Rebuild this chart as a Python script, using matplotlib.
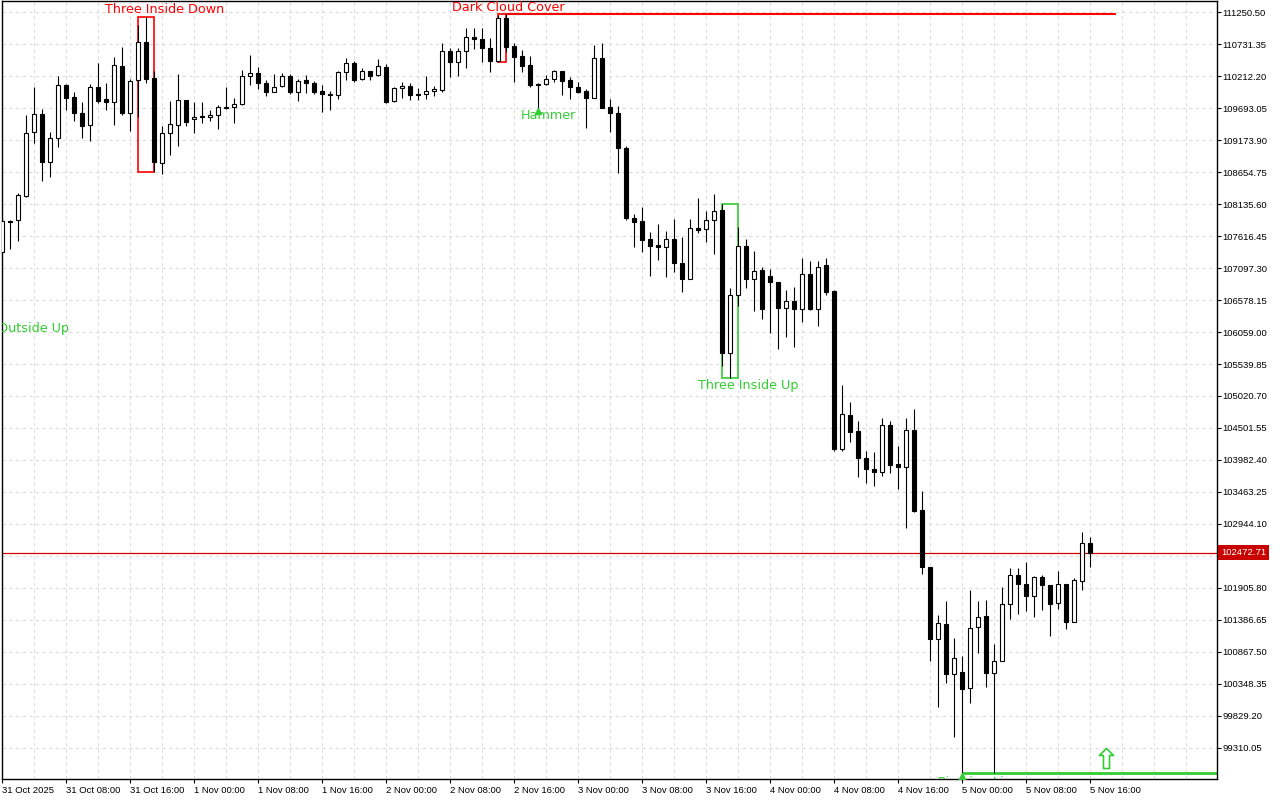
import matplotlib
matplotlib.use("Agg")
import matplotlib.pyplot as plt
import matplotlib.transforms as mtransforms
from matplotlib.patches import Rectangle
from matplotlib.path import Path
from matplotlib.ticker import MultipleLocator

# hourly bars, 31 Oct 2025 00:00 .. 5 Nov 2025 16:00
opens = [107358, 107862, 107878, 108268, 109307, 109599, 108820, 109209, 110070, 109875,
         109615, 109420, 110037, 109843, 109794, 110378, 109615, 110151, 110768, 110184,
         108803, 109291, 109420, 109826, 109518, 109567, 109550, 109583, 109696, 109713,
         109761, 110216, 110265, 110102, 109956, 110054, 110216, 109956, 110151, 110102,
         109972, 109924, 109908, 110281, 110427, 110167, 110297, 110232, 110362, 109810,
         110021, 110054, 109924, 109924, 109972, 109989, 110622, 110443, 110622, 110849,
         110817, 110671, 110460, 111158, 110703, 110541, 110395, 110086, 110086, 110167,
         110297, 110151, 110037, 109972, 109859, 110508, 109713, 109615, 109047, 107910,
         107862, 107569, 107472, 107440, 107569, 107180, 106920, 107748, 107732, 107878,
         108040, 105718, 106660, 107456, 106920, 107066, 106969, 106871, 106449, 106563,
         106433, 107001, 106433, 107147, 106725, 104160, 104712, 104452, 104014, 103835,
         103786, 104549, 103916, 103867, 104468, 103169, 102244, 101075, 101318, 100506,
         100539, 100279, 101269, 101448, 100523, 100717, 101643, 102114, 101968, 101773,
         102081, 101951, 101659, 101968, 101351, 102016, 102633]
highs = [107910, 107878, 108316, 109583, 110037, 109680, 109307, 110216, 110080, 109956,
         109794, 110086, 110427, 110102, 110525, 110687, 110167, 111044, 111174, 110297,
         109404, 109810, 110249, 109830, 109794, 109794, 109664, 109745, 110037, 109859,
         110313, 110557, 110362, 110151, 110249, 110265, 110249, 110167, 110232, 110135,
         110070, 109972, 110297, 110508, 110460, 110346, 110300, 110492, 110411, 110037,
         110119, 110102, 110021, 110216, 110054, 110752, 110671, 110671, 110995, 110995,
         110995, 110833, 111206, 111223, 110752, 110638, 110541, 110102, 110232, 110313,
         110300, 110200, 110119, 110005, 110719, 110752, 109843, 109729, 109079, 107975,
         108089, 107683, 107813, 107699, 107894, 107602, 107894, 108235, 108024, 108300,
         108138, 106774, 107764, 107569, 107375, 107115, 107082, 106875, 106741, 106790,
         107261, 107212, 107212, 107261, 106741, 105199, 104923, 104614, 104127, 104111,
         104663, 104614, 104208, 104663, 104809, 103478, 102250, 101464, 101692, 101091,
         100799, 101870, 101692, 101708, 100993, 101919, 102227, 102227, 102325, 102098,
         102114, 101955, 102179, 101972, 102065, 102812, 102731]
lows = [107326, 107407, 107537, 108251, 109128, 108511, 108576, 109063, 109664, 109485,
        109209, 109161, 109778, 109664, 109420, 109583, 109323, 109550, 110102, 108657,
        108625, 108933, 109079, 109404, 109291, 109453, 109485, 109355, 109680, 109453,
        109745, 110070, 110005, 109891, 109950, 110037, 109924, 109810, 109940, 109924,
        109632, 109664, 109843, 110151, 110119, 110151, 110151, 110216, 109778, 109794,
        109859, 109826, 109826, 109843, 109891, 109956, 110200, 110216, 110346, 110654,
        110443, 110281, 110443, 110606, 110119, 110281, 110037, 109696, 110070, 110119,
        109908, 109843, 109940, 109372, 109855, 109690, 109307, 108641, 107878, 107440,
        107358, 106969, 107228, 106952, 107034, 106709, 106915, 107667, 107521, 107326,
        105507, 105312, 106482, 106774, 106400, 106270, 106043, 105783, 105978, 105816,
        106222, 106417, 106157, 106660, 104127, 104127, 104273, 103705, 103608, 103559,
        103721, 103770, 103510, 102877, 103137, 102130, 100717, 99970, 100360, 99483,
        98899, 100035, 100847, 100295, 98902, 100712, 101399, 101480, 101529, 101432,
        101545, 101123, 101562, 101237, 101347, 101870, 102244]
closes = [107862, 107845, 108284, 109291, 109599, 108820, 109209, 110070, 109859, 109615,
          109404, 110037, 109810, 109794, 110395, 109615, 110135, 110768, 110167, 108820,
          109291, 109437, 109826, 109469, 109550, 109550, 109583, 109713, 109713, 109761,
          110216, 110265, 110102, 109956, 110037, 110216, 109956, 110135, 110102, 109956,
          109924, 109908, 110281, 110427, 110151, 110297, 110216, 110378, 109794, 110021,
          110054, 109908, 109908, 109972, 110005, 110622, 110443, 110622, 110849, 110817,
          110671, 110460, 111158, 110687, 110525, 110378, 110070, 110078, 110167, 110297,
          110135, 110037, 109956, 109859, 110508, 109700, 109615, 109047, 107910, 107845,
          107553, 107456, 107440, 107569, 107180, 106920, 107748, 107716, 107878, 108024,
          105718, 106660, 107456, 106920, 107050, 106433, 106871, 106449, 106563, 106433,
          107001, 106433, 107115, 106709, 104160, 104728, 104436, 104014, 103835, 103786,
          104549, 103900, 103867, 104468, 103153, 102244, 101075, 101334, 100506, 100766,
          100263, 101253, 101432, 100523, 100717, 101643, 102114, 101968, 101773, 102081,
          101951, 101643, 101968, 101351, 102033, 102633, 102472.71]

date_labels = ["31 Oct 2025", "31 Oct 08:00", "31 Oct 16:00", "1 Nov 00:00", "1 Nov 08:00",
               "1 Nov 16:00", "2 Nov 00:00", "2 Nov 08:00", "2 Nov 16:00", "3 Nov 00:00",
               "3 Nov 08:00", "3 Nov 16:00", "4 Nov 00:00", "4 Nov 08:00", "4 Nov 16:00",
               "5 Nov 00:00", "5 Nov 08:00", "5 Nov 16:00"]
price_labels = ["111250.50", "110731.35", "110212.20", "109693.05", "109173.90", "108654.75",
                "108135.60", "107616.45", "107097.30", "106578.15", "106059.00", "105539.85",
                "105020.70", "104501.55", "103982.40", "103463.25", "102944.10", "102424.95",
                "101905.80", "101386.65", "100867.50", "100348.35", "99829.20", "99310.05"]

# candlestick patterns: boxes span first..last bar
box_first = [17, 62, 90]
box_last = [19, 63, 92]
box_color = ["red", "red", "#32cd32"]

label_text = ["Outside Up", "Three Inside Down", "Dark Cloud Cover", "Hammer",
              "Three Inside Up", "Piercing Line"]
label_x = [3.85, 20.3, 63.3, 68.3, 93.3, 122.0]
label_y = [106124, 111288, 111336, 109567, 105183, 98753]
label_color = ["#32cd32", "red", "red", "#32cd32", "#32cd32", "#32cd32"]

GREEN = "#32cd32"

plt.rcParams['font.family'] = ['Liberation Sans', 'DejaVu Sans']

fig = plt.figure(figsize=(12.8, 8), dpi=100)
ax = fig.add_axes([2 / 1280, 21.5 / 800, 1215 / 1280, 778 / 800])

n = len(closes)
x = list(range(n))

ax.vlines(x, lows, highs, color='black', linewidth=0.8, zorder=3)
for i in range(n):
    o, c = opens[i], closes[i]
    face = 'white' if c >= o else 'black'
    ax.add_patch(Rectangle((i - 0.25, min(o, c)), 0.5, max(abs(c - o), 8),
                           facecolor=face, edgecolor='black', linewidth=0.8, zorder=4))

for first, last, col in zip(box_first, box_last, box_color):
    lo = min(lows[first:last + 1])
    hi = max(highs[first:last + 1])
    ax.add_patch(Rectangle((first, lo), last - first, hi - lo, fill=False,
                           edgecolor=col, linewidth=1.2, zorder=2))

xmax = 151.84
ax.hlines(highs[63], 63, 139.2, color='red', linewidth=1.5, zorder=2)
ax.hlines(lows[120], 120, xmax, color=GREEN, linewidth=2, zorder=2)

for t, lx, ly, col in zip(label_text, label_x, label_y, label_color):
    ax.text(lx, ly, t, color=col, fontsize=9.2, family='DejaVu Sans',
            ha='center', va='center', zorder=5, clip_on=True)

ax.plot([67], [lows[67] - 50], marker='^', color=GREEN, markersize=5, zorder=5)
ax.plot([120], [lows[120] - 60], marker='^', color=GREEN, markersize=6, zorder=5, clip_on=True)

arrow = Path([(0, 1), (0.7, 0.3), (0.3, 0.3), (0.3, -1), (-0.3, -1), (-0.3, 0.3), (-0.7, 0.3), (0, 1)],
             [Path.MOVETO] + [Path.LINETO] * 6 + [Path.CLOSEPOLY])
ax.plot([138], [99142], marker=arrow, markersize=14.5, markerfacecolor='white',
        markeredgecolor=GREEN, markeredgewidth=1.2, zorder=5)

last = closes[-1]
ax.axhline(last, color='#d00000', linewidth=0.9, zorder=2.5)
trans = mtransforms.blended_transform_factory(ax.transAxes, ax.transData)
ax.text(1.0035, last, f"{last:.2f}", transform=trans, color='white', fontsize=6.8,
        ha='left', va='center', zorder=10, clip_on=False,
        bbox=dict(boxstyle='square,pad=0.32', facecolor='#c80000', edgecolor='none'))

ax.set_xlim(-0.0375, xmax)
ax.set_ylim(98810, 111442)

ax.set_xticks(list(range(0, n, 8)))
ax.set_xticklabels(date_labels, ha='left')
ax.xaxis.set_minor_locator(MultipleLocator(4))
ax.yaxis.tick_right()
ax.set_yticks([float(p) for p in price_labels])
ax.set_yticklabels(price_labels)
ax.tick_params(axis='both', which='major', length=3, width=0.8, labelsize=6.8,
               colors='black', pad=1)
ax.tick_params(axis='x', which='major', pad=2.5)
ax.tick_params(axis='x', which='minor', length=0)

ax.grid(True, which='both', color='#dcdcdc', linestyle=(0, (3, 3)), linewidth=0.8)
ax.set_axisbelow(True)
for s in ax.spines.values():
    s.set_color('black')
    s.set_linewidth(1)

fig.savefig("out.png", dpi=100, facecolor='white')
